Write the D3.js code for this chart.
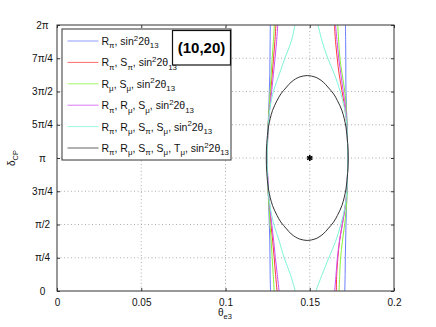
<!DOCTYPE html>
<html><head><meta charset="utf-8">
<script src="https://cdn.jsdelivr.net/npm/d3@7"></script>
<style>body{margin:0;background:#fff}svg{display:block;font-family:"Liberation Sans",Arial,sans-serif}</style>
</head><body><div id="chart"></div>
<script>
// ---- data ----
const thetaTicks = [0, 0.05, 0.1, 0.15, 0.2];
const thetaTickLabels = ["0", "0.05", "0.1", "0.15", "0.2"];
const deltaTicks = [0, 0.25, 0.5, 0.75, 1, 1.25, 1.5, 1.75, 2]; // in units of pi
const deltaTickLabels = ["0", "π/4", "π/2", "3π/4", "π", "5π/4", "3π/2", "7π/4", "2π"];

// delta (units of pi) sampled along each open branch, top to bottom
const branchDelta = [2, 1.875, 1.75, 1.625, 1.5, 1.375, 1.25, 1.125, 1, 0.875, 0.75, 0.625, 0.5, 0.375, 0.25, 0.125, 0];

const blueLeft   = [0.1266,0.1265,0.1264,0.1263,0.1260,0.1257,0.1253,0.1250,0.1248,0.1250,0.1253,0.1257,0.1260,0.1263,0.1264,0.1265,0.1267];
const blueRight  = [0.1712,0.1713,0.1714,0.1714,0.1715,0.1718,0.1721,0.1724,0.1726,0.1724,0.1721,0.1718,0.1715,0.1713,0.1711,0.1710,0.1708];
const redLeft    = [0.1299,0.1293,0.1285,0.1277,0.1268,0.1260,0.1253,0.1249,0.1247,0.1249,0.1253,0.1261,0.1270,0.1280,0.1289,0.1297,0.1306];
const redRight   = [0.1647,0.1653,0.1663,0.1675,0.1692,0.1708,0.1720,0.1724,0.1726,0.1724,0.1720,0.1709,0.1693,0.1677,0.1667,0.1660,0.1658];
const greenLeft  = [0.1290,0.1284,0.1277,0.1271,0.1265,0.1259,0.1253,0.1249,0.1247,0.1249,0.1253,0.1259,0.1265,0.1271,0.1277,0.1283,0.1289];
const greenRight = [0.1666,0.1672,0.1679,0.1693,0.1708,0.1717,0.1722,0.1724,0.1726,0.1724,0.1722,0.1717,0.1707,0.1694,0.1683,0.1678,0.1674];
const magLeft    = [0.1310,0.1303,0.1294,0.1284,0.1274,0.1263,0.1254,0.1249,0.1247,0.1250,0.1255,0.1264,0.1275,0.1286,0.1296,0.1307,0.1318];
const magRight   = [0.1653,0.1662,0.1672,0.1685,0.1699,0.1713,0.1721,0.1724,0.1726,0.1724,0.1720,0.1710,0.1693,0.1676,0.1664,0.1656,0.1648];
const cyanLeft   = [0.1412,0.1390,0.1352,0.1318,0.1284,0.1264,0.1254,0.1249,0.1247,0.1249,0.1254,0.1266,0.1287,0.1319,0.1348,0.1385,0.1414];
const cyanRight  = [0.1549,0.1574,0.1607,0.1648,0.1681,0.1706,0.1720,0.1724,0.1726,0.1724,0.1720,0.1708,0.1684,0.1654,0.1613,0.1574,0.1536];

// closed contour (all observables)
const ellipseTheta = [0.1485,0.1531,0.1555,0.1580,0.1607,0.1642,0.1664,0.1691,0.1715,0.1725,0.1728,0.1725,0.1715,0.1691,0.1664,0.1642,0.1607,0.1580,0.1555,0.1531,0.1485,
                      0.1439,0.1415,0.1390,0.1363,0.1328,0.1306,0.1279,0.1255,0.1245,0.1242,0.1245,0.1255,0.1279,0.1306,0.1328,0.1363,0.1390,0.1415,0.1439];
const ellipseDelta = [1.620,1.609,1.594,1.571,1.534,1.481,1.432,1.357,1.233,1.109,1.000,0.891,0.767,0.643,0.568,0.519,0.466,0.429,0.406,0.391,0.380,
                      0.391,0.406,0.429,0.466,0.519,0.568,0.643,0.767,0.891,1.000,1.109,1.233,1.357,1.432,1.481,1.534,1.571,1.594,1.609];

const truePoint = [0.15, 1]; // (theta, delta/pi)

const seriesLabels = [
  "R_{π}, sin^{2}2θ_{13}",
  "R_{π}, S_{π}, sin^{2}2θ_{13}",
  "R_{μ}, S_{μ}, sin^{2}2θ_{13}",
  "R_{π}, R_{μ}, S_{μ}, sin^{2}2θ_{13}",
  "R_{π}, R_{μ}, S_{π}, S_{μ}, sin^{2}2θ_{13}",
  "R_{π}, R_{μ}, S_{π}, S_{μ}, T_{μ}, sin^{2}2θ_{13}"
];
const seriesColors = ["#6a7cff", "#ff3b3b", "#86f53a", "#cf4cf5", "#7ff5d8", "#333333"];
const seriesBranches = [
  [blueLeft, blueRight],
  [redLeft, redRight],
  [greenLeft, greenRight],
  [magLeft, magRight],
  [cyanLeft, cyanRight]
];
const configLabel = "(10,20)";

// ---- drawing ----
const W = 436, H = 327;
const svg = d3.select("#chart").append("svg").attr("width", W).attr("height", H);
const x = d3.scaleLinear().domain([0, 0.2]).range([57, 394]);
const y = d3.scaleLinear().domain([0, 2]).range([291, 25]);

// grid
const grid = svg.append("g").attr("stroke", "#9a9a9a").attr("stroke-width", 0.8).attr("stroke-dasharray", "1,2.5");
thetaTicks.slice(1, -1).forEach(t => grid.append("line").attr("x1", x(t)).attr("x2", x(t)).attr("y1", y(0)).attr("y2", y(2)));
deltaTicks.slice(1, -1).forEach(t => grid.append("line").attr("y1", y(t)).attr("y2", y(t)).attr("x1", x(0)).attr("x2", x(0.2)));

// curves
const line = d3.line().x(d => x(d[0])).y(d => y(d[1])).curve(d3.curveCatmullRom);
seriesBranches.forEach((branches, i) => {
  branches.forEach(arr => {
    svg.append("path").datum(arr.map((t, k) => [t, branchDelta[k]]))
      .attr("d", line).attr("fill", "none").attr("stroke", seriesColors[i]).attr("stroke-width", 1);
  });
});
const closed = d3.line().x(d => x(d[0])).y(d => y(d[1])).curve(d3.curveCatmullRomClosed);
svg.append("path").datum(ellipseTheta.map((t, k) => [t, ellipseDelta[k]]))
  .attr("d", closed).attr("fill", "none").attr("stroke", seriesColors[5]).attr("stroke-width", 1);

svg.append("path").attr("d", d3.symbol(d3.symbolAsterisk, 26)())
  .attr("transform", `translate(${x(truePoint[0])},${y(truePoint[1])})`)
  .attr("fill", "none").attr("stroke", "#000").attr("stroke-width", 1.6);

// axes
const xAxisB = d3.axisBottom(x).tickValues(thetaTicks).tickFormat((d, i) => thetaTickLabels[i]).tickSizeInner(-3).tickSizeOuter(0).tickPadding(8);
const gx = svg.append("g").attr("transform", `translate(0,${y(0)})`).call(xAxisB);
const xAxisT = d3.axisTop(x).tickValues(thetaTicks).tickFormat("").tickSizeInner(-3).tickSizeOuter(0);
const gxt = svg.append("g").attr("transform", `translate(0,${y(2)})`).call(xAxisT);
const yAxisL = d3.axisLeft(y).tickValues(deltaTicks).tickFormat((d, i) => deltaTickLabels[i]).tickSizeInner(-3).tickSizeOuter(0).tickPadding(6);
const gy = svg.append("g").attr("transform", `translate(${x(0)},0)`).call(yAxisL);
const yAxisR = d3.axisRight(y).tickValues(deltaTicks).tickFormat("").tickSizeInner(-3).tickSizeOuter(0);
const gyr = svg.append("g").attr("transform", `translate(${x(0.2)},0)`).call(yAxisR);
[gx, gxt, gy, gyr].forEach(g => {
  g.select(".domain").remove();
  g.selectAll("line").attr("stroke", "#333");
  g.selectAll("text").attr("font-size", 10).attr("fill", "#111").attr("font-family", "Liberation Sans, Arial, sans-serif");
});
gy.selectAll("text").attr("text-anchor", "middle").attr("x", -14.5);
svg.append("rect").attr("x", x(0)).attr("y", y(2)).attr("width", x(0.2) - x(0)).attr("height", y(0) - y(2))
  .attr("fill", "none").attr("stroke", "#333").attr("stroke-width", 1);

// rich text helper: _{sub} and ^{sup}
function rich(sel, str, size) {
  const re = /([_^])\{([^}]*)\}|([^_^]+)/g;
  let m, off = 0;
  while ((m = re.exec(str)) !== null) {
    let target = 0, txt, fs = size;
    if (m[1] === "_") { target = size * 0.32; txt = m[2]; fs = size * 0.75; }
    else if (m[1] === "^") { target = -size * 0.42; txt = m[2]; fs = size * 0.75; }
    else { txt = m[3]; }
    sel.append("tspan").attr("dy", target - off).attr("font-size", fs).text(txt);
    off = target;
  }
}

// axis titles
const xt = svg.append("text").attr("x", 218).attr("y", 316).attr("font-size", 10).attr("fill", "#111");
rich(xt, "θ_{e3}", 10);
const yt = svg.append("text").attr("transform", "translate(15,166) rotate(-90)").attr("font-size", 10).attr("fill", "#111");
rich(yt, "δ_{CP}", 10);

// legend
const lg = svg.append("g");
lg.append("rect").attr("x", 62).attr("y", 29).attr("width", 169).attr("height", 131)
  .attr("fill", "#fff").attr("stroke", "#333").attr("stroke-width", 1);
seriesLabels.forEach((lab, i) => {
  const yy = 41 + i * 21.4;
  lg.append("line").attr("x1", 67.5).attr("x2", 98.5).attr("y1", yy).attr("y2", yy)
    .attr("stroke", seriesColors[i]).attr("stroke-width", 1).attr("opacity", 0.75);
  const t = lg.append("text").attr("x", 101.5).attr("y", yy + 4).attr("font-size", 10.5).attr("fill", "#111");
  rich(t, lab, 10.5);
});

// configuration box
svg.append("rect").attr("x", 172.5).attr("y", 30.5).attr("width", 58).attr("height", 34.5)
  .attr("fill", "#fff").attr("stroke", "#111").attr("stroke-width", 1.2);
svg.append("text").attr("x", 201.5).attr("y", 52.5).attr("text-anchor", "middle")
  .attr("font-size", 15).attr("font-weight", "bold").attr("fill", "#000").text(configLabel);
</script></body></html>
